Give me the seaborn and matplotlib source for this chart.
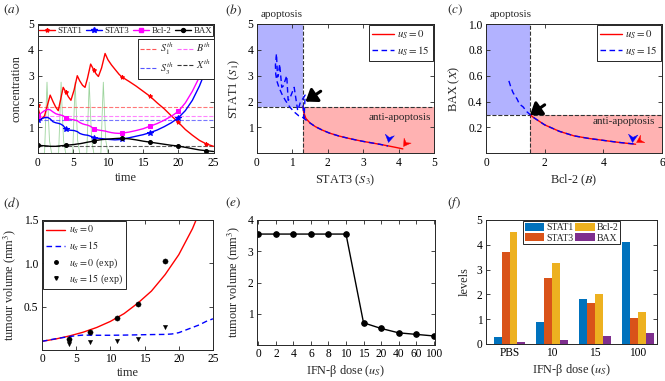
import numpy as np
import pandas as pd
import matplotlib
matplotlib.use("Agg")
import matplotlib.pyplot as plt
import seaborn as sns
from matplotlib.lines import Line2D
from matplotlib.patches import Patch, Rectangle
from matplotlib.path import Path

# ---------------- data ----------------
# (a) time courses
t_a = [0, 0.5, 1, 1.5, 1.8, 2.2, 2.6, 2.95, 3.3, 3.65, 4, 4.4, 4.75, 5.2, 5.65, 6, 6.4, 6.75,
       7.1, 7.55, 8, 8.3, 8.65, 9.1, 9.6, 10, 10.5, 11, 11.6, 12, 13, 14, 15, 16, 17, 18, 19,
       20, 21, 22, 23, 24, 25]
stat1_a = [1.85, 1.30, 1.45, 1.95, 2.25, 2.0, 1.78, 1.65, 2.1, 2.55, 2.38, 2.18, 2.05, 2.45, 3.0,
           2.8, 2.63, 2.55, 2.9, 3.45, 3.22, 3.08, 2.97, 3.3, 3.86, 3.62, 3.42, 3.25, 3.05, 2.95,
           2.78, 2.6, 2.4, 2.2, 1.95, 1.72, 1.45, 1.2, 0.92, 0.7, 0.5, 0.36, 0.27]
stat3_a = [1.30, 1.33, 1.38, 1.38, 1.33, 1.22, 1.18, 1.16, 1.13, 1.07, 0.95, 0.9, 0.89, 0.88,
           0.84, 0.77, 0.73, 0.71, 0.7, 0.66, 0.61, 0.59, 0.58, 0.57, 0.55, 0.54, 0.53, 0.52,
           0.53, 0.55, 0.6, 0.66, 0.72, 0.8, 0.9, 1.03, 1.18, 1.37, 1.65, 2.05, 2.6, 3.28, 3.65]
bcl2_a = [1.44, 1.55, 1.65, 1.7, 1.68, 1.6, 1.53, 1.5, 1.48, 1.45, 1.38, 1.33, 1.31, 1.29, 1.26,
          1.19, 1.14, 1.11, 1.09, 1.04, 0.95, 0.92, 0.9, 0.88, 0.86, 0.83, 0.8, 0.78, 0.77, 0.78,
          0.82, 0.88, 0.95, 1.05, 1.15, 1.28, 1.43, 1.62, 1.95, 2.4, 2.95, 3.65, 4.2]
bax_a = [0.31, 0.3, 0.29, 0.28, 0.27, 0.27, 0.27, 0.28, 0.29, 0.3, 0.31, 0.32, 0.33, 0.34, 0.36,
         0.37, 0.39, 0.41, 0.43, 0.45, 0.48, 0.5, 0.51, 0.53, 0.54, 0.55, 0.56, 0.57, 0.58, 0.58,
         0.56, 0.52, 0.47, 0.43, 0.39, 0.35, 0.31, 0.28, 0.23, 0.18, 0.13, 0.1, 0.07]
marker_times = [0, 4, 8, 12, 16, 20, 24]
dose_t = [0, 1.0, 1.2, 1.35, 1.5, 1.7, 2.0, 3.0, 3.2, 3.35, 3.5, 3.7, 4.0, 5.0, 5.2, 5.35, 5.5,
          5.7, 6.0, 7.0, 7.2, 7.35, 7.5, 7.7, 8.0, 9.0, 9.2, 9.35, 9.5, 9.7, 10.0, 25]
dose_y = [0, 0, 1.6, 2.75, 1.7, 0.5, 0, 0, 1.6, 2.75, 1.7, 0.5, 0, 0, 1.6, 2.75, 1.7,
          0.5, 0, 0, 1.6, 2.75, 1.7, 0.5, 0, 0, 1.6, 2.75, 1.7, 0.5, 0, 0]
thr_S1, thr_S3, thr_B, thr_X = 1.8, 1.3, 1.45, 0.3

# (b) STAT3-STAT1 phase plane
b_red_s3 = [1.30, 1.32, 1.38, 1.5, 1.65, 1.84, 2.05, 2.31, 2.55, 2.78, 3.0, 3.25, 3.5, 3.73, 3.95, 4.12]
b_red_s1 = [1.80, 1.58, 1.35, 1.17, 1.03, 0.9, 0.78, 0.67, 0.59, 0.52, 0.46, 0.4, 0.34, 0.28, 0.22, 0.17]
b_blue_s3 = [1.30, 1.33, 1.36, 1.22, 1.15, 1.10, 1.05, 0.92, 0.88, 0.84, 0.74, 0.70, 0.64, 0.60,
             0.58, 0.55, 0.52, 0.53, 0.56, 0.62, 0.70, 0.80, 0.92, 1.05, 1.18, 1.30, 1.37, 1.5,
             1.65, 1.84, 2.05, 2.31, 2.55, 2.78, 3.0, 3.25, 3.5, 3.70]
b_blue_s1 = [1.85, 1.35, 2.25, 1.95, 1.65, 2.1, 2.55, 2.1, 2.05, 3.0, 2.6, 2.55, 3.45, 3.0, 2.95,
             3.85, 3.4, 3.05, 2.8, 2.55, 2.3, 2.05, 1.8, 1.6, 1.45, 1.38, 1.3, 1.17, 1.03, 0.9,
             0.78, 0.67, 0.59, 0.52, 0.46, 0.4, 0.34, 0.28]

# (c) Bcl-2 - BAX phase plane
c_red_b = [1.5, 1.6, 1.8, 2.0, 2.5, 3.0, 3.5, 4.0, 4.5, 5.1]
c_red_x = [0.30, 0.28, 0.25, 0.22, 0.17, 0.135, 0.115, 0.1, 0.085, 0.07]
c_blue_b = [0.78, 0.85, 0.92, 1.0, 1.06, 1.12, 1.2, 1.26, 1.33, 1.4, 1.45, 1.52, 1.6, 1.8, 2.0,
            2.5, 3.0, 3.5, 4.0, 4.5, 5.05]
c_blue_x = [0.56, 0.51, 0.47, 0.44, 0.42, 0.39, 0.37, 0.36, 0.34, 0.32, 0.31, 0.295, 0.28, 0.25,
            0.22, 0.17, 0.135, 0.115, 0.1, 0.085, 0.072]

# (d) tumour volume
d_t0 = [0, 2, 4, 6, 8, 10, 12, 14, 16, 18, 20, 22, 24]
d_v0 = [0.10, 0.127, 0.162, 0.205, 0.26, 0.33, 0.42, 0.54, 0.68, 0.87, 1.1, 1.4, 1.78]
d_t15 = [0, 2, 4, 5, 6, 8, 10, 12, 14, 16, 18, 19, 20, 21, 22, 23, 24, 25]
d_v15 = [0.10, 0.13, 0.155, 0.165, 0.172, 0.17, 0.17, 0.172, 0.175, 0.178, 0.18, 0.185, 0.2,
         0.23, 0.26, 0.29, 0.33, 0.36]
exp0_t = [4, 7, 11, 14, 18]
exp0_v = [0.127, 0.204, 0.373, 0.53, 1.03]
exp15_t = [4, 4, 7, 11, 14, 18]
exp15_v = [0.096, 0.066, 0.096, 0.107, 0.127, 0.26]

# (e) dose response
e_dose = ["0", "2", "4", "6", "8", "10", "15", "20", "40", "60", "100"]
e_vol = [3.55, 3.55, 3.55, 3.55, 3.55, 3.55, 0.71, 0.53, 0.39, 0.34, 0.29]

# (f) levels
f_dose = ["PBS", "10", "15", "100"]
f_stat1 = [0.30, 0.87, 1.80, 4.10]
f_stat3 = [3.72, 2.65, 1.64, 1.03]
f_bcl2 = [4.53, 3.25, 2.02, 1.28]
f_bax = [0.09, 0.16, 0.32, 0.46]

# ---------------- style ----------------
sns.set_theme(style="ticks")
plt.rcParams["font.family"] = ["Liberation Serif", "DejaVu Serif"]
plt.rcParams["mathtext.fontset"] = "stix"
plt.rcParams["axes.edgecolor"] = "#262626"
plt.rcParams["axes.linewidth"] = 0.7
plt.rcParams["legend.fancybox"] = False
TICK = 8.3
LAB = 8.8

W, H = 665, 381
fig = plt.figure(figsize=(W / 100, H / 100), dpi=100)


def ax_px(l, t, r, b):
    ax = fig.add_axes([l / W, 1 - b / H, (r - l) / W, (b - t) / H])
    ax.tick_params(direction="in", top=True, right=True, length=3, width=0.6,
                   labelsize=TICK, pad=2.5, colors="#262626", labelcolor="black")
    return ax


def legend_style(leg):
    leg.get_frame().set_edgecolor("#262626")
    leg.get_frame().set_linewidth(0.7)
    leg.get_frame().set_alpha(1)


def chevron(angle):
    v = np.array([(0, 0), (-1, 0.6), (-0.65, 0), (-1, -0.6), (0, 0)])
    a = np.deg2rad(angle)
    rot = np.array([[np.cos(a), -np.sin(a)], [np.sin(a), np.cos(a)]])
    return Path(v @ rot.T, [Path.MOVETO, Path.LINETO, Path.LINETO, Path.LINETO, Path.CLOSEPOLY])


def arrowhead(ax, tip, angle, color, size=12):
    ax.plot([tip[0]], [tip[1]], marker=chevron(angle), markersize=size, color=color,
            markeredgewidth=0.3, ls="none", zorder=6, clip_on=False)


def big_arrow(ax, tip, tail):
    ax.annotate("", xy=tip, xytext=tail,
                arrowprops=dict(arrowstyle="-|>,head_length=0.55,head_width=0.4",
                                color="black", lw=2.2, shrinkA=0, shrinkB=0,
                                mutation_scale=12), zorder=6)


# ---------------- (a) ----------------
ax = ax_px(37.5, 24, 213.5, 153.3)
mk_idx = [t_a.index(m) for m in marker_times]
sns.lineplot(x=dose_t, y=dose_y, ax=ax, color="#5cb85c", lw=0.6, alpha=0.6,
             estimator=None, sort=False, zorder=1)
for yv, c in [(thr_S1, "#ff5555"), (thr_B, "#ff66ff"), (thr_S3, "#5555ff"), (thr_X, "#333333")]:
    ax.axhline(yv, color=c, ls="--", lw=0.8, alpha=0.8, zorder=1.5)
series = [("STAT1", stat1_a, "red", "*", 3), ("STAT3", stat3_a, "blue", "*", 4),
          ("Bcl-2", bcl2_a, "magenta", "s", 2.8), ("BAX", bax_a, "black", "o", 2.8)]
for name, ys, c, m, ms in series:
    sns.lineplot(x=t_a, y=ys, ax=ax, color=c, lw=1.0, marker=m, markersize=ms,
                 markevery=mk_idx, markeredgecolor=c, markerfacecolor=c,
                 estimator=None, sort=False)
ax.set_xlim(0, 25)
ax.set_ylim(0, 5)
ax.set_xticks([0, 5, 10, 15, 20, 25])
ax.set_yticks([1, 2, 3, 4, 5])
ax.set_xlabel("time", fontsize=LAB, labelpad=2)
ax.set_ylabel("concentration", fontsize=LAB, labelpad=4)
h1 = [Line2D([], [], color=c, lw=1.0, marker=m, markersize=ms, markeredgecolor=c)
      for _, _, c, m, ms in series]
leg1 = ax.legend(h1, [s[0] for s in series], ncol=4, loc="upper center",
                 bbox_to_anchor=(0.5, 1.0), fontsize=6.4, handlelength=1.8,
                 columnspacing=0.45, handletextpad=0.25, borderpad=0.15, borderaxespad=0.15,
                 frameon=True)
legend_style(leg1)
ax.add_artist(leg1)
h2 = [Line2D([], [], color="#ff5555", ls="--", lw=0.8), Line2D([], [], color="#5555ff", ls="--", lw=0.8),
      Line2D([], [], color="#ff66ff", ls="--", lw=0.8), Line2D([], [], color="#333333", ls="--", lw=0.8)]
leg2 = ax.legend(h2, [r"$S_1^{th}$", r"$S_3^{th}$", r"$B^{th}$", r"$X^{th}$"], ncol=2,
                 loc="upper right", bbox_to_anchor=(1.0, 0.885), fontsize=7.3,
                 handlelength=1.6, columnspacing=0.4, handletextpad=0.3, borderpad=0.2,
                 labelspacing=0.25, borderaxespad=0.0, frameon=True)
legend_style(leg2)

# ---------------- (b) ----------------
ax = ax_px(257, 24, 434, 153.3)
ax.add_patch(Rectangle((0, thr_S1), thr_S3, 5 - thr_S1, color=(0.0, 0.0, 1.0), alpha=0.3, lw=0, zorder=0))
ax.add_patch(Rectangle((thr_S3, 0), 5 - thr_S3, thr_S1, color=(1.0, 0.0, 0.0), alpha=0.3, lw=0, zorder=0))
ax.axvline(thr_S3, color="#333333", ls="--", lw=0.8)
ax.axhline(thr_S1, color="#333333", ls="--", lw=0.8)
sns.lineplot(x=b_red_s3, y=b_red_s1, ax=ax, color="red", lw=1.0, estimator=None, sort=False)
sns.lineplot(x=b_blue_s3, y=b_blue_s1, ax=ax, color="blue", lw=1.0, ls=(0, (4, 2.5)),
             estimator=None, sort=False)
arrowhead(ax, (3.71, 0.42), -100, "blue")
arrowhead(ax, (4.13, 0.27), -125, "red")
big_arrow(ax, (1.37, 2.0), (1.8, 2.4))
ax.set_xlim(0, 5)
ax.set_ylim(0, 5)
ax.set_xticks([0, 1, 2, 3, 4, 5])
ax.set_yticks([1, 2, 3, 4, 5])
ax.set_xlabel(r"STAT3 ($S_3$)", fontsize=LAB, labelpad=3)
ax.set_ylabel(r"STAT1 ($S_1$)", fontsize=LAB, labelpad=4)
ax.text(0.02, 1.035, "apoptosis", transform=ax.transAxes, fontsize=8, va="bottom", ha="left")
ax.text(4.92, 1.38, "anti-apoptosis", fontsize=8, va="center", ha="right")
hb = [Line2D([], [], color="red", lw=1.0), Line2D([], [], color="blue", lw=1.0, ls=(0, (4, 2.5)))]
leg = ax.legend(hb, [r"$u_S = 0$", r"$u_S = 15$"], loc="upper right", fontsize=7.8,
                handlelength=2.0, handletextpad=0.3, borderpad=0.3, labelspacing=0.3,
                borderaxespad=0.1, frameon=True)
legend_style(leg)

# ---------------- (c) ----------------
ax = ax_px(486, 24, 662, 153.3)
ax.add_patch(Rectangle((0, thr_X), 1.5, 1 - thr_X, color=(0.0, 0.0, 1.0), alpha=0.3, lw=0, zorder=0))
ax.add_patch(Rectangle((1.5, 0), 6 - 1.5, thr_X, color=(1.0, 0.0, 0.0), alpha=0.3, lw=0, zorder=0))
ax.axvline(1.5, color="#333333", ls="--", lw=0.8)
ax.axhline(thr_X, color="#333333", ls="--", lw=0.8)
sns.lineplot(x=c_red_b, y=c_red_x, ax=ax, color="red", lw=1.0, estimator=None, sort=False)
sns.lineplot(x=c_blue_b, y=c_blue_x, ax=ax, color="blue", lw=1.0, ls=(0, (4, 2.5)),
             estimator=None, sort=False)
arrowhead(ax, (4.98, 0.09), -95, "blue")
arrowhead(ax, (5.13, 0.09), -150, "red")
big_arrow(ax, (1.5, 0.296), (2.0, 0.375))
ax.set_xlim(0, 6)
ax.set_ylim(0, 1)
ax.set_xticks([0, 2, 4, 6])
ax.set_yticks([0.2, 0.4, 0.6, 0.8, 1.0])
ax.set_yticklabels(["0.2", "0.4", "0.6", "0.8", "1.0"])
ax.set_xlabel(r"Bcl-2 ($B$)", fontsize=LAB, labelpad=3)
ax.set_ylabel(r"BAX ($X$)", fontsize=LAB, labelpad=4)
ax.text(0.02, 1.035, "apoptosis", transform=ax.transAxes, fontsize=8, va="bottom", ha="left")
ax.text(5.77, 0.245, "anti-apoptosis", fontsize=8, va="center", ha="right")
leg = ax.legend(hb, [r"$u_S = 0$", r"$u_S = 15$"], loc="upper right", fontsize=7.8,
                handlelength=2.0, handletextpad=0.3, borderpad=0.3, labelspacing=0.3,
                borderaxespad=0.1, frameon=True)
legend_style(leg)

# ---------------- (d) ----------------
ax = ax_px(42, 220, 213, 350)
sns.lineplot(x=d_t0, y=d_v0, ax=ax, color="red", lw=1.0, estimator=None, sort=False)
sns.lineplot(x=d_t15, y=d_v15, ax=ax, color="blue", lw=1.0, ls=(0, (4, 2.5)),
             estimator=None, sort=False)
sns.scatterplot(x=exp0_t, y=exp0_v, ax=ax, color="black", marker="o", s=14, edgecolor="black", zorder=5)
sns.scatterplot(x=exp15_t, y=exp15_v, ax=ax, color="black", marker="v", s=10, edgecolor="black", zorder=5)
ax.set_xlim(0, 25)
ax.set_ylim(0, 1.5)
ax.set_xticks([0, 5, 10, 15, 20, 25])
ax.set_yticks([0.5, 1.0, 1.5])
ax.set_yticklabels(["0.5", "1.0", "1.5"])
ax.set_xlabel("time", fontsize=LAB, labelpad=1)
ax.set_ylabel(r"tumour volume (mm$^3$)", fontsize=LAB, labelpad=4)
hd = [Line2D([], [], color="red", lw=1.0), Line2D([], [], color="blue", lw=1.0, ls=(0, (4, 2.5))),
      Line2D([], [], color="black", marker="o", ls="none", markersize=2.5),
      Line2D([], [], color="black", marker="v", ls="none", markersize=2.5)]
leg = ax.legend(hd, [r"$u_S = 0$", r"$u_S = 15$", r"$u_S = 0$ (exp)", r"$u_S = 15$ (exp)"],
                loc="upper left", fontsize=7.2, handlelength=1.9, handletextpad=0.4,
                borderpad=0.3, labelspacing=0.3, borderaxespad=0.1, frameon=True)
legend_style(leg)

# ---------------- (e) ----------------
ax = ax_px(257, 220, 435, 345)
sns.lineplot(x=list(range(len(e_dose))), y=e_vol, ax=ax, color="black", lw=1.0, marker="o",
             markersize=4, markeredgecolor="black", estimator=None, sort=False)
ax.set_xlim(-0.08, len(e_dose) - 1 + 0.08)
ax.set_ylim(0, 4)
ax.set_xticks(range(len(e_dose)))
ax.set_xticklabels(e_dose)
ax.set_yticks([1, 2, 3, 4])
ax.set_xlabel(r"IFN-β dose ($u_S$)", fontsize=LAB, labelpad=2)
ax.set_ylabel(r"tumour volume (mm$^3$)", fontsize=LAB, labelpad=4)

# ---------------- (f) ----------------
ax = ax_px(486, 220, 657, 344)
names = ["STAT1", "STAT3", "Bcl-2", "BAX"]
cols = ["#0072BD", "#D95319", "#EDB120", "#7E2F8E"]
df = pd.DataFrame({
    "dose": f_dose * 4,
    "level": f_stat1 + f_stat3 + f_bcl2 + f_bax,
    "protein": sum([[n] * len(f_dose) for n in names], []),
})
sns.barplot(data=df, x="dose", y="level", hue="protein", order=f_dose, hue_order=names,
            palette=cols, saturation=1, width=0.74, ax=ax, legend=False, linewidth=0)
ax.set_xlim(-0.55, 3.45)
ax.set_ylim(0, 5)
ax.set_yticks([0, 1, 2, 3, 4, 5])
ax.set_xlabel(r"IFN-β dose ($u_S$)", fontsize=LAB, labelpad=2)
ax.set_ylabel("levels", fontsize=LAB, labelpad=4)
hf = [Patch(facecolor=c, edgecolor="none") for c in cols]
leg = ax.legend([hf[0], hf[1], hf[2], hf[3]], names, ncol=2, loc="upper center",
                bbox_to_anchor=(0.5, 1.0), fontsize=7.0, handlelength=2.0, handleheight=0.9,
                columnspacing=0.2, handletextpad=0.2, borderpad=0.15, labelspacing=0.1,
                borderaxespad=0.15, frameon=True)
legend_style(leg)
ax.tick_params(axis="x", length=0)

# panel labels
for lbl, x, y in [("a", 3, 10), ("b", 225, 10), ("c", 447, 10),
                  ("d", 3, 203), ("e", 225, 203), ("f", 447, 203)]:
    fig.text(x / W, 1 - y / H, rf"$({lbl})$", fontsize=9.5, va="center", ha="left")

fig.savefig("out.png", dpi=100)
